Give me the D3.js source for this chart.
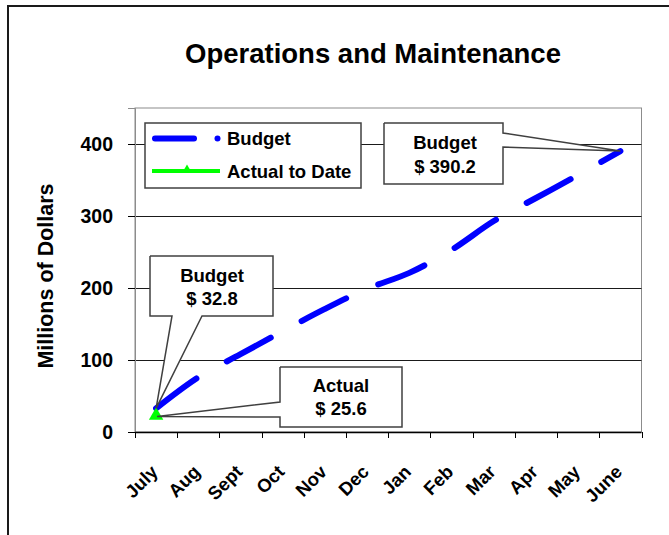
<!DOCTYPE html>
<html>
<head>
<meta charset="utf-8">
<script src="https://cdn.jsdelivr.net/npm/d3@7"></script>
<style>
  body { margin: 0; background: #fff; }
  text { font-family: "Liberation Sans", Arial, sans-serif; font-weight: bold; fill: #000; }
</style>
</head>
<body>
<div id="chart"></div>
<script>
// chart data
var months = ["July", "Aug", "Sept", "Oct", "Nov", "Dec", "Jan", "Feb", "Mar", "Apr", "May", "June"];
var budget = [32.8, 76, 108, 140, 171, 199, 221, 253, 293, 325, 357, 390.2];
var actual = [25.6];
var yTicks = [0, 100, 200, 300, 400];

function init(){
	var w = 669;
	var h = 535;
	var plot = { left: 135, right: 641.5, top: 108, bottom: 432 };

	var svg = d3.select("#chart")
				.append("svg")
				.attr("width", w)
				.attr("height", h);

	// outer frame
	svg.append("path")
		.attr("d", "M8," + h + "V6H" + w)
		.attr("fill", "none")
		.attr("stroke", "#1a1a1a")
		.attr("stroke-width", 2);

	var xScale = d3.scaleBand()
					.domain(months)
					.range([plot.left, plot.right]);

	var yScale = d3.scaleLinear()
					.domain([0, 450])
					.range([plot.bottom, plot.top]);

	function cx(m){ return xScale(m) + xScale.bandwidth() / 2; }

	// plot area border
	svg.append("rect")
		.attr("x", plot.left)
		.attr("y", plot.top)
		.attr("width", plot.right - plot.left)
		.attr("height", plot.bottom - plot.top)
		.attr("fill", "#fff")
		.attr("stroke", "#8c8c8c")
		.attr("stroke-width", 1);

	// gridlines
	svg.append("g")
		.selectAll("line")
		.data(yTicks.filter(function(d){ return d > 0; }))
		.enter()
		.append("line")
		.attr("x1", plot.left)
		.attr("x2", plot.right)
		.attr("y1", function(d){ return Math.round(yScale(d)) + 0.5; })
		.attr("y2", function(d){ return Math.round(yScale(d)) + 0.5; })
		.attr("stroke", "#1a1a1a")
		.attr("stroke-width", 1);

	// y axis
	var yAxis = d3.axisLeft(yScale)
					.tickValues(yTicks)
					.tickSize(7)
					.tickPadding(15);
	var gy = svg.append("g")
				.attr("transform", "translate(" + plot.left + ",0)")
				.call(yAxis);
	gy.select(".domain").attr("stroke", "#8c8c8c");
	gy.selectAll(".tick line").attr("stroke", "#000");
	gy.selectAll("text")
		.attr("font-size", "19.5px")
		.attr("font-family", null)
		.attr("fill", "#000");

	// x axis with ticks on band edges
	var edges = months.map(function(m){ return xScale(m); }).concat([plot.right]);
	svg.append("line")
		.attr("x1", plot.left).attr("x2", plot.right)
		.attr("y1", plot.bottom + 0.5).attr("y2", plot.bottom + 0.5)
		.attr("stroke", "#000")
		.attr("stroke-width", 1.5);
	svg.append("g")
		.selectAll("line")
		.data(edges)
		.enter()
		.append("line")
		.attr("x1", function(d){ return Math.round(d) + 0.5; })
		.attr("x2", function(d){ return Math.round(d) + 0.5; })
		.attr("y1", plot.bottom)
		.attr("y2", plot.bottom + 6)
		.attr("stroke", "#000");

	svg.append("g")
		.selectAll("text")
		.data(months)
		.enter()
		.append("text")
		.attr("transform", function(d){
			return "translate(" + (cx(d) + 3) + "," + (plot.bottom + 41) + ") rotate(-45)";
		})
		.attr("text-anchor", "end")
		.attr("font-size", "18.5px")
		.text(function(d){ return d; });

	// axis title
	svg.append("text")
		.attr("transform", "translate(53,276) rotate(-90)")
		.attr("text-anchor", "middle")
		.attr("font-size", "21.5px")
		.text("Millions of Dollars");

	// chart title
	svg.append("text")
		.attr("x", 373)
		.attr("y", 63)
		.attr("text-anchor", "middle")
		.attr("font-size", "27.5px")
		.text("Operations and Maintenance");

	// budget line
	var line = d3.line()
				.x(function(d, i){ return cx(months[i]); })
				.y(function(d){ return yScale(d); })
				.curve(d3.curveCatmullRom.alpha(0.5));

	svg.append("path")
		.datum(budget)
		.attr("d", line)
		.attr("fill", "none")
		.attr("stroke", "#0000ff")
		.attr("stroke-width", 6)
		.attr("stroke-linecap", "round")
		.attr("stroke-dasharray", "50,35");

	// actual to date
	svg.append("path")
		.datum(actual)
		.attr("d", line)
		.attr("fill", "none")
		.attr("stroke", "#00ff00")
		.attr("stroke-width", 4);

	var tri = d3.symbol().type(d3.symbolTriangle).size(90);
	svg.append("g")
		.selectAll("path")
		.data(actual)
		.enter()
		.append("path")
		.attr("d", tri)
		.attr("transform", function(d, i){
			return "translate(" + cx(months[i]) + "," + (yScale(d) + 2) + ")";
		})
		.attr("fill", "#00ff00");

	// legend
	var lg = svg.append("g");
	lg.append("rect")
		.attr("x", 145).attr("y", 123)
		.attr("width", 216).attr("height", 65)
		.attr("fill", "#fff")
		.attr("stroke", "#404040")
		.attr("stroke-width", 1.5);
	lg.append("line")
		.attr("x1", 155).attr("x2", 194)
		.attr("y1", 138.5).attr("y2", 138.5)
		.attr("stroke", "#0000ff")
		.attr("stroke-width", 6)
		.attr("stroke-linecap", "round");
	lg.append("circle")
		.attr("cx", 217.5).attr("cy", 138.5).attr("r", 3)
		.attr("fill", "#0000ff");
	lg.append("text")
		.attr("x", 227).attr("y", 145)
		.attr("font-size", "18.5px")
		.text("Budget");
	lg.append("line")
		.attr("x1", 152).attr("x2", 220)
		.attr("y1", 171).attr("y2", 171)
		.attr("stroke", "#00ff00")
		.attr("stroke-width", 4);
	lg.append("path")
		.attr("d", d3.symbol().type(d3.symbolTriangle).size(40))
		.attr("transform", "translate(187,170)")
		.attr("fill", "#00ff00");
	lg.append("text")
		.attr("x", 227).attr("y", 177.5)
		.attr("font-size", "18.5px")
		.text("Actual to Date");

	// callouts
	function callout(pts, lines, tx, ty){
		var g = svg.append("g");
		g.append("path")
			.attr("d", d3.line()(pts))
			.attr("fill", "#fff")
			.attr("stroke", "#404040")
			.attr("stroke-width", 1.5)
			.attr("stroke-linejoin", "miter");
		g.selectAll("text")
			.data(lines)
			.enter()
			.append("text")
			.attr("x", tx)
			.attr("y", function(d, i){ return ty + i * 23.5; })
			.attr("text-anchor", "middle")
			.attr("font-size", "18.5px")
			.text(function(d){ return d; });
	}

	var endX = cx(months[11]), endY = yScale(budget[11]);
	callout([[384, 123], [503, 123], [503, 133], [endX, endY], [503, 147], [503, 184], [384, 184], [384, 123]],
		["Budget", "$ 390.2"], 445, 149);

	var startX = cx(months[0]), startY = yScale(budget[0]);
	callout([[150, 256], [273, 256], [273, 316], [202, 316], [startX, startY], [172, 316], [150, 316], [150, 256]],
		["Budget", "$ 32.8"], 212, 281.5);

	var actY = yScale(actual[0]);
	callout([[280, 367], [402, 367], [402, 427], [280, 427], [280, 417], [startX + 1, actY + 3], [280, 402], [280, 367]],
		["Actual", "$ 25.6"], 341, 391.5);
}

window.onload = init;
</script>
</body>
</html>
